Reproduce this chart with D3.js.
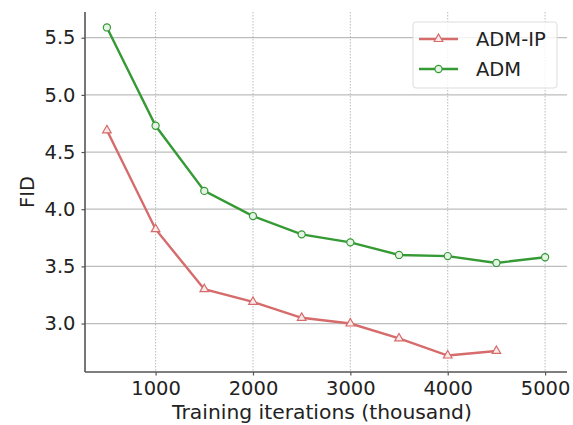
<!DOCTYPE html>
<html>
<head>
<meta charset="utf-8">
<script src="https://cdn.jsdelivr.net/npm/d3@7"></script>
<style>
  body { margin: 0; background: #fff; }
  svg { font-family: "DejaVu Sans", sans-serif; }
</style>
</head>
<body>
<svg id="chart" width="573" height="425"></svg>
<script>
// training iterations (thousand)
const iterations = [500, 1000, 1500, 2000, 2500, 3000, 3500, 4000, 4500, 5000];
const admIP = [4.69, 3.825, 3.30, 3.19, 3.05, 3.00, 2.87, 2.72, 2.76];
const adm = [5.59, 4.73, 4.16, 3.94, 3.78, 3.71, 3.60, 3.59, 3.53, 3.58];
const xTicks = [1000, 2000, 3000, 4000, 5000];
const yTicks = [3.0, 3.5, 4.0, 4.5, 5.0, 5.5];

const series = [
  { name: "ADM-IP", values: admIP, color: "#d66b6b", fill: "#fbe9e9", marker: "triangle" },
  { name: "ADM", values: adm, color: "#359a35", fill: "#e6f4e6", marker: "circle" }
];

const svg = d3.select("#chart");
const margin = { top: 12, right: 6, bottom: 53, left: 85 };
const width = 573 - margin.left - margin.right;
const height = 425 - margin.top - margin.bottom;

const g = svg.append("g")
  .attr("transform", `translate(${margin.left},${margin.top})`);

const x = d3.scaleLinear().domain([275, 5225]).range([0, width]);
const y = d3.scaleLinear().domain([2.576, 5.725]).range([height, 0]);

// grid
g.append("g").selectAll("line")
  .data(yTicks).join("line")
  .attr("x1", 0).attr("x2", width)
  .attr("y1", d => y(d)).attr("y2", d => y(d))
  .attr("stroke", "#bdbdbd").attr("stroke-width", 1.2);

g.append("g").selectAll("line")
  .data(xTicks).join("line")
  .attr("x1", d => x(d)).attr("x2", d => x(d))
  .attr("y1", 0).attr("y2", height)
  .attr("stroke", "#aaa").attr("stroke-width", 0.8)
  .attr("stroke-dasharray", "1.5,1.5");

// axes
const xAxis = g.append("g")
  .attr("transform", `translate(0,${height})`)
  .call(d3.axisBottom(x).tickValues(xTicks).tickSize(3.5).tickPadding(6).tickFormat(d3.format("d")));
const yAxis = g.append("g")
  .call(d3.axisLeft(y).tickValues(yTicks).tickSize(3.5).tickPadding(6).tickFormat(d3.format(".1f")));

[xAxis, yAxis].forEach(a => {
  a.select(".domain").attr("stroke", "#555").attr("stroke-width", 1.6);
  a.selectAll(".tick line").attr("stroke", "#555").attr("stroke-width", 1.2);
  a.selectAll(".tick text").attr("fill", "#222").style("font-size", "19.5px")
    .style("font-family", "DejaVu Sans");
});
xAxis.select(".domain").attr("d", `M0,0H${width}`);
yAxis.select(".domain").attr("d", `M0,0V${height}`);

// lines
const triangle = d3.symbol().type(d3.symbolTriangle).size(32);
const circle = d3.symbol().type(d3.symbolCircle).size(40);

series.forEach(s => {
  const pts = s.values.map((v, i) => ({ x: iterations[i], y: v }));
  g.append("path")
    .datum(pts)
    .attr("fill", "none")
    .attr("stroke", s.color)
    .attr("stroke-width", 2.4)
    .attr("d", d3.line().x(d => x(d.x)).y(d => y(d.y)));
  g.append("g").selectAll("path")
    .data(pts).join("path")
    .attr("transform", d => `translate(${x(d.x)},${y(d.y)})`)
    .attr("d", s.marker === "triangle" ? triangle : circle)
    .attr("fill", s.fill)
    .attr("stroke", s.color)
    .attr("stroke-width", 1.2);
});

// axis labels
svg.append("text")
  .attr("x", margin.left + (x(5225) + x(275)) / 2 - 4)
  .attr("y", 419)
  .attr("text-anchor", "middle")
  .style("font-size", "20.3px")
  .attr("fill", "#222")
  .text("Training iterations (thousand)");

svg.append("text")
  .attr("transform", "translate(34,192) rotate(-90)")
  .attr("text-anchor", "middle")
  .style("font-size", "19.5px")
  .attr("fill", "#222")
  .text("FID");

// legend
const legend = svg.append("g").attr("transform", "translate(413,22)");
legend.append("rect")
  .attr("width", 144).attr("height", 66).attr("rx", 3)
  .attr("fill", "rgba(255,255,255,0.8)")
  .attr("stroke", "#ddd").attr("stroke-width", 1);

series.forEach((s, i) => {
  const ly = 17 + i * 30;
  legend.append("line")
    .attr("x1", 6).attr("x2", 45).attr("y1", ly).attr("y2", ly)
    .attr("stroke", s.color).attr("stroke-width", 2.4);
  legend.append("path")
    .attr("transform", `translate(25.5,${ly})`)
    .attr("d", s.marker === "triangle" ? triangle : circle)
    .attr("fill", s.fill).attr("stroke", s.color).attr("stroke-width", 1.2);
  legend.append("text")
    .attr("x", 63).attr("y", ly + 7)
    .style("font-size", "19.5px")
    .attr("fill", "#222")
    .text(s.name);
});
</script>
</body>
</html>
